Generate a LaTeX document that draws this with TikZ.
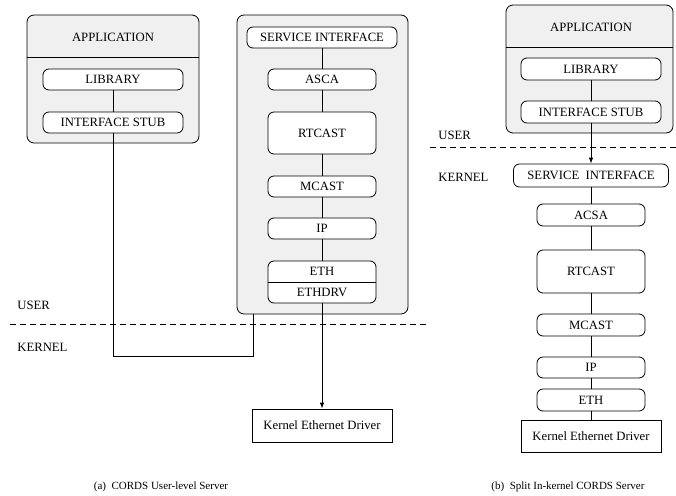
\documentclass[tikz,border=0pt]{standalone}
\usepackage{fontspec}
\setmainfont{Liberation Serif}
\usetikzlibrary{arrows.meta}
\definecolor{shellgray}{gray}{0.94}
\tikzset{
  layer/.style={draw, rounded corners=6pt, fill=white, minimum width=108pt, minimum height=21pt, inner sep=0pt},
  shell/.style={draw, rounded corners=7pt, fill=shellgray, inner sep=0pt},
  drv/.style={draw, fill=white, minimum width=140pt, minimum height=33pt, inner sep=0pt},
  lbl/.style={anchor=west, inner sep=0pt},
  sep/.style={dash pattern=on 6pt off 4pt},
  captext/.style={font=\fontsize{11}{13}\selectfont},
}

\begin{document}
\begin{tikzpicture}[x=1pt, y=-1pt, line width=0.8pt, font=\fontsize{12.7}{14}\selectfont]
  \useasboundingbox (0,0) rectangle (676,495);
  \node[shell, minimum width=172pt, minimum height=128pt] (appL) at (113,79) {};
  \draw ([yshift=-43pt]appL.north west) -- ([yshift=-43pt]appL.north east);
  \node (appLt) at (113,37) {APPLICATION};
  \node[layer, minimum width=140pt] (libL) at (113,79.5) {LIBRARY};
  \node[layer, minimum width=140pt] (stubL) at (113,122.5) {INTERFACE STUB};
  \node[shell, minimum width=171pt, minimum height=299pt] (srvL) at (322.5,164.5) {};
  \node[layer, minimum width=150pt] (siL) at (322,37.5) {SERVICE INTERFACE};
  \node[layer] (ascaL) at (322,79.5) {ASCA};
  \node[layer, minimum height=42pt] (rtcL) at (322,133) {RTCAST};
  \node[layer] (mcL) at (322,186.5) {MCAST};
  \node[layer] (ipL) at (322,228.5) {IP};
  \node[layer, minimum height=42pt] (ethL) at (322,282) {};
  \draw (ethL.west) -- (ethL.east);
  \node (ethLa) at (322,271.5) {ETH};
  \node (ethLb) at (322,292.5) {ETHDRV};
  \node[drv] (kedL) at (322,425.5) {Kernel Ethernet Driver};
  \node[lbl] (userL) at (17,305) {USER};
  \node[lbl] (kernL) at (17,347) {KERNEL};
  \coordinate (sepLa) at (10,324);
  \coordinate (sepLb) at (428,324);
  \coordinate (turnL) at (253,356);
  \draw[sep] (sepLa) -- (sepLb);
  \draw (libL)--(stubL);
  \draw (siL)--(ascaL)--(rtcL)--(mcL)--(ipL)--(ethL);
  \draw[-{Latex[length=6pt,width=4.5pt]}] (ethL)--(kedL);
  \draw (stubL) |- (turnL) -- (turnL |- srvL.south);
  \node[shell, minimum width=167pt, minimum height=128pt] (appR) at (589.5,69) {};
  \draw ([yshift=-43pt]appR.north west) -- ([yshift=-43pt]appR.north east);
  \node (appRt) at (591,27) {APPLICATION};
  \node[layer, minimum width=140pt, minimum height=22pt] (libR) at (591,69) {LIBRARY};
  \node[layer, minimum width=140pt, minimum height=22pt] (stubR) at (591,112) {INTERFACE STUB};
  \node[lbl] (userR) at (438,135) {USER};
  \node[lbl] (kernR) at (438,177) {KERNEL};
  \node[layer, minimum width=155pt, minimum height=23pt] (siR) at (591,175.5) {SERVICE\ \ INTERFACE};
  \node[layer, minimum height=22pt] (acsaR) at (591,215) {ACSA};
  \node[layer, minimum height=43pt] (rtcR) at (591,271.5) {RTCAST};
  \node[layer, minimum height=22pt] (mcR) at (591,325) {MCAST};
  \node[layer] (ipR) at (591,367.5) {IP};
  \node[layer, minimum height=22pt] (ethR) at (591,400) {ETH};
  \node[drv, minimum height=32pt] (kedR) at (591,436) {Kernel Ethernet Driver};
  \coordinate (sepRa) at (430,147);
  \coordinate (sepRb) at (676,147);
  \draw[sep] (sepRa) -- (sepRb);
  \draw (libR)--(stubR);
  \draw[-{Latex[length=6pt,width=4.5pt]}] (stubR)--(siR);
  \draw (siR)--(acsaR)--(rtcR)--(mcR)--(ipR)--(ethR)--(kedR);
  \node[captext] (capA) at (161,487) {(a)\ \ CORDS User-level Server};
  \node[captext] (capB) at (568,487) {(b)\ \ Split In-kernel CORDS Server};
\end{tikzpicture}
\end{document}
